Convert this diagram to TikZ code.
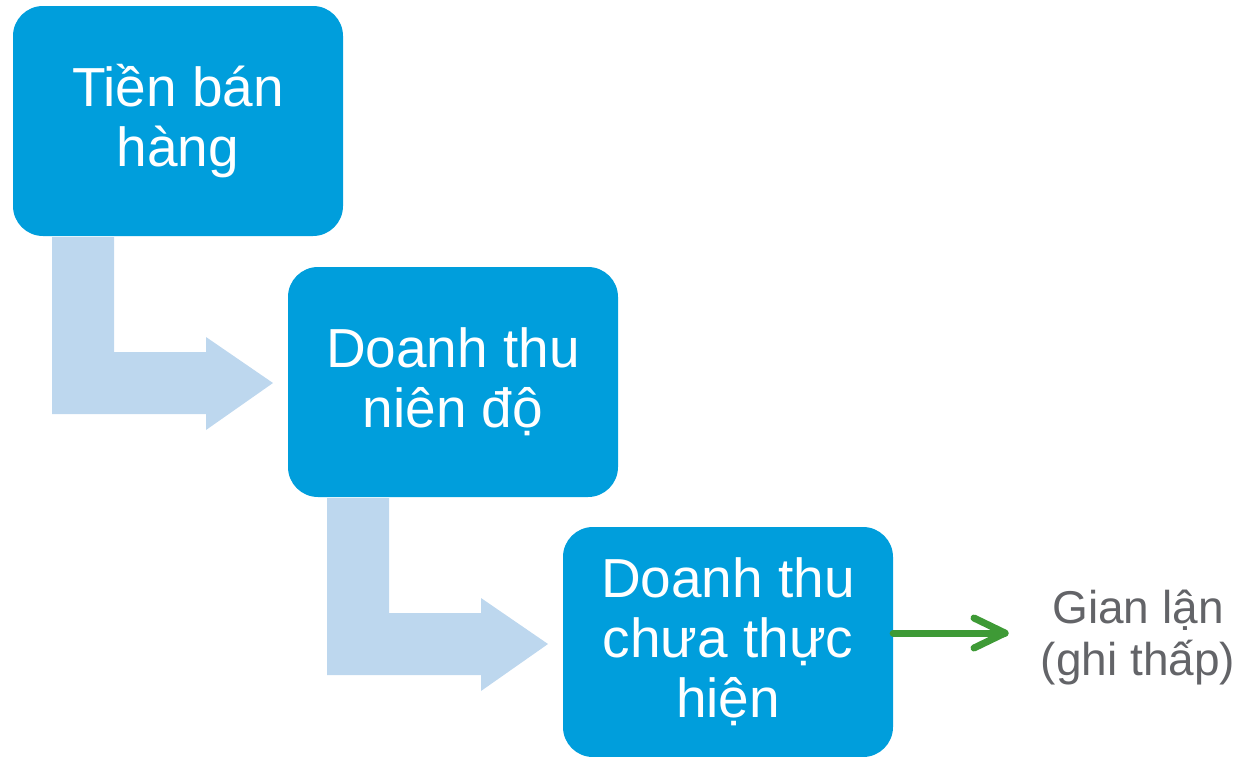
\documentclass[tikz,border=0pt]{standalone}
\usepackage{fontspec}
\setmainfont{Liberation Sans}
\usetikzlibrary{calc}
\definecolor{boxblue}{RGB}{0,158,220}
\definecolor{lightarrow}{RGB}{189,215,238}
\definecolor{arrowgreen}{RGB}{62,154,54}
\definecolor{labelgray}{RGB}{99,100,104}
\tikzset{
  stepbox/.style={fill=boxblue, draw=none, rounded corners=30pt, minimum width=330pt, minimum height=230pt, inner sep=0pt, text=white, align=center, font=\fontsize{55}{60}\selectfont},
  bentarrow/.style={fill=lightarrow, draw=none},
  greenline/.style={draw=arrowgreen, line width=7pt, line cap=round, line join=round},
  sidelabel/.style={text=labelgray, align=center, font=\fontsize{46}{52}\selectfont}
}
\begin{document}
\begin{tikzpicture}[x=1pt,y=-1pt]
\useasboundingbox (0,0) rectangle (1248,756);
% bent arrows
\fill[bentarrow] (52,237) -- (114,237) -- (114,352) -- (206,352) -- (206,337) -- (273,383) -- (206,430) -- (206,414) -- (52,414) -- cycle;
\fill[bentarrow] (327,498) -- (389,498) -- (389,613) -- (481,613) -- (481,598) -- (548,644) -- (481,691) -- (481,675) -- (327,675) -- cycle;
% boxes
\node[stepbox] (b1) at (178,121) {Tiền bán\\hàng};
\node[stepbox] (b2) at (453,382) {Doanh thu\\niên độ};
\node[stepbox] (b3) at (728,642) {Doanh thu\\chưa thực\\hiện};
% label
\node[sidelabel] (lbl) at (1138,638) {Gian lận\\(ghi thấp)};
% green arrow
\coordinate (g) at (1005,633);
\draw[greenline] (b3.east|-g) -- (g);
\draw[greenline] ($(g)+(-31,-15)$) -- (g) -- ($(g)+(-31,15)$);
\end{tikzpicture}
\end{document}
